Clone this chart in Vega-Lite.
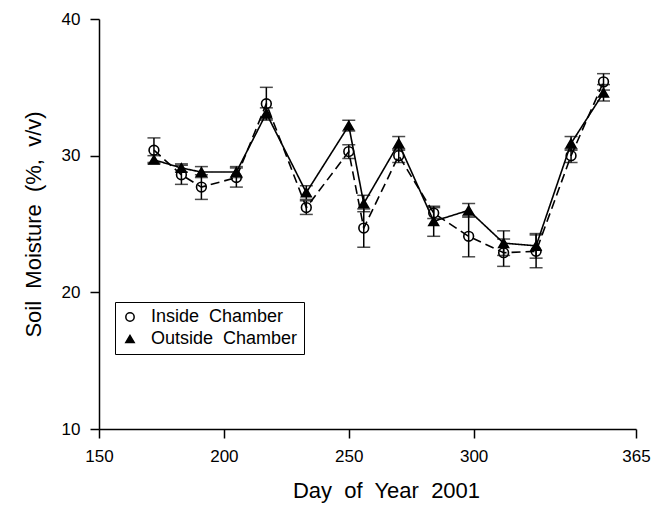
{
  "$schema": "https://vega.github.io/schema/vega-lite/v6.json",
  "width": 537,
  "height": 410,
  "autosize": {"type": "none"},
  "padding": {"left": 99, "top": 19, "right": 31, "bottom": 87},
  "background": "white",
  "config": {
    "view": {"stroke": null},
    "font": "Liberation Sans",
    "axis": {"domainColor": "black", "tickColor": "black", "labelColor": "black", "titleColor": "black", "domainWidth": 1.5, "tickWidth": 1.5, "grid": false, "labelFont": "Liberation Sans", "titleFont": "Liberation Sans", "titleFontWeight": "normal", "labelFlush": false},
    "legend": {"labelFont": "Liberation Sans", "labelColor": "black"}
  },
  "data": {
    "values": [
      {"day": 172, "series": "Inside Chamber", "value": 30.4, "lo": 29.5, "hi": 31.3},
      {"day": 183, "series": "Inside Chamber", "value": 28.6, "lo": 27.9, "hi": 29.3},
      {"day": 191, "series": "Inside Chamber", "value": 27.7, "lo": 26.8, "hi": 28.6},
      {"day": 205, "series": "Inside Chamber", "value": 28.4, "lo": 27.7, "hi": 29.1},
      {"day": 217, "series": "Inside Chamber", "value": 33.8, "lo": 32.6, "hi": 35.0},
      {"day": 233, "series": "Inside Chamber", "value": 26.2, "lo": 25.7, "hi": 26.7},
      {"day": 250, "series": "Inside Chamber", "value": 30.3, "lo": 29.8, "hi": 30.8},
      {"day": 256, "series": "Inside Chamber", "value": 24.7, "lo": 23.3, "hi": 26.1},
      {"day": 270, "series": "Inside Chamber", "value": 30.0, "lo": 29.5, "hi": 30.5},
      {"day": 284, "series": "Inside Chamber", "value": 25.8, "lo": 25.4, "hi": 26.2},
      {"day": 298, "series": "Inside Chamber", "value": 24.1, "lo": 22.6, "hi": 25.6},
      {"day": 312, "series": "Inside Chamber", "value": 22.9, "lo": 21.9, "hi": 23.9},
      {"day": 325, "series": "Inside Chamber", "value": 23.0, "lo": 21.8, "hi": 24.2},
      {"day": 339, "series": "Inside Chamber", "value": 30.0, "lo": 29.5, "hi": 30.5},
      {"day": 352, "series": "Inside Chamber", "value": 35.4, "lo": 34.8, "hi": 36.0},
      {"day": 172, "series": "Outside Chamber", "value": 29.7, "lo": 29.4, "hi": 30.0},
      {"day": 183, "series": "Outside Chamber", "value": 29.1, "lo": 28.8, "hi": 29.4},
      {"day": 191, "series": "Outside Chamber", "value": 28.8, "lo": 28.4, "hi": 29.2},
      {"day": 205, "series": "Outside Chamber", "value": 28.8, "lo": 28.4, "hi": 29.2},
      {"day": 217, "series": "Outside Chamber", "value": 33.1, "lo": 32.7, "hi": 33.5},
      {"day": 233, "series": "Outside Chamber", "value": 27.3, "lo": 26.8, "hi": 27.8},
      {"day": 250, "series": "Outside Chamber", "value": 32.2, "lo": 31.8, "hi": 32.6},
      {"day": 256, "series": "Outside Chamber", "value": 26.5, "lo": 25.9, "hi": 27.1},
      {"day": 270, "series": "Outside Chamber", "value": 30.9, "lo": 30.4, "hi": 31.4},
      {"day": 284, "series": "Outside Chamber", "value": 25.2, "lo": 24.1, "hi": 26.3},
      {"day": 298, "series": "Outside Chamber", "value": 26.0, "lo": 25.5, "hi": 26.5},
      {"day": 312, "series": "Outside Chamber", "value": 23.6, "lo": 22.7, "hi": 24.5},
      {"day": 325, "series": "Outside Chamber", "value": 23.4, "lo": 22.5, "hi": 24.3},
      {"day": 339, "series": "Outside Chamber", "value": 30.9, "lo": 30.4, "hi": 31.4},
      {"day": 352, "series": "Outside Chamber", "value": 34.6, "lo": 34.0, "hi": 35.2}
    ]
  },
  "encoding": {
    "x": {"field": "day", "type": "quantitative", "scale": {"domain": [150, 365], "nice": false, "zero": false},
      "axis": {"values": [150, 200, 250, 300, 365], "title": "Day\u00a0 of\u00a0 Year\u00a0 2001", "titleFontSize": 22, "labelFontSize": 17, "tickSize": 9, "labelPadding": 10, "titlePadding": 16, "titleX": 287}}
  },
  "layer": [
    {
      "mark": {"type": "line", "color": "black", "strokeWidth": 1.6},
      "encoding": {
        "y": {"field": "value", "type": "quantitative", "scale": {"domain": [10, 40], "nice": false, "zero": false},
          "axis": {"values": [10, 20, 30, 40], "title": "Soil\u00a0 Moisture\u00a0 (%,\u00a0 v/v)", "titleFontSize": 22, "labelFontSize": 17, "tickSize": 9, "labelPadding": 10, "titlePadding": 16}},
        "strokeDash": {"field": "series", "type": "nominal", "scale": {"domain": ["Inside Chamber", "Outside Chamber"], "range": [[9, 5], [1, 0]]}, "legend": null}
      }
    },
    {
      "mark": {"type": "rule", "color": "black", "strokeWidth": 1.5},
      "encoding": {"y": {"field": "lo", "type": "quantitative"}, "y2": {"field": "hi"}}
    },
    {
      "mark": {"type": "tick", "orient": "horizontal", "color": "black", "size": 13, "thickness": 1.5},
      "encoding": {"y": {"field": "lo", "type": "quantitative"}}
    },
    {
      "mark": {"type": "tick", "orient": "horizontal", "color": "black", "size": 13, "thickness": 1.5},
      "encoding": {"y": {"field": "hi", "type": "quantitative"}}
    },
    {
      "mark": {"type": "point", "filled": true, "stroke": "black", "strokeWidth": 1.6, "size": 95, "opacity": 1},
      "encoding": {
        "y": {"field": "value", "type": "quantitative"},
        "shape": {"field": "series", "type": "nominal", "scale": {"domain": ["Inside Chamber", "Outside Chamber"], "range": ["circle", "triangle-up"]},
          "legend": {"orient": "none", "legendX": 16, "legendY": 283, "title": null, "strokeColor": "black", "padding": 6, "labelFontSize": 18, "symbolSize": 70, "rowPadding": 4, "labelOffset": 12, "labelLimit": 300,
            "labelExpr": "datum.label == 'Inside Chamber' ? 'Inside\u00a0 Chamber\u00a0 ' : 'Outside\u00a0 Chamber\u00a0 '",
            "encode": {"symbols": {"update": {"stroke": {"value": "black"}, "strokeWidth": {"value": 1.5}}}}}},
        "fill": {"field": "series", "type": "nominal", "scale": {"domain": ["Inside Chamber", "Outside Chamber"], "range": ["transparent", "black"]},
          "legend": {"orient": "none", "legendX": 16, "legendY": 283, "title": null, "strokeColor": "black", "padding": 6, "labelFontSize": 18, "symbolSize": 70, "rowPadding": 4, "labelOffset": 12, "labelLimit": 300,
            "labelExpr": "datum.label == 'Inside Chamber' ? 'Inside\u00a0 Chamber\u00a0 ' : 'Outside\u00a0 Chamber\u00a0 '",
            "encode": {"symbols": {"update": {"stroke": {"value": "black"}, "strokeWidth": {"value": 1.5}}}}}}
      }
    }
  ],
  "resolve": {"scale": {"strokeDash": "independent"}}
}
